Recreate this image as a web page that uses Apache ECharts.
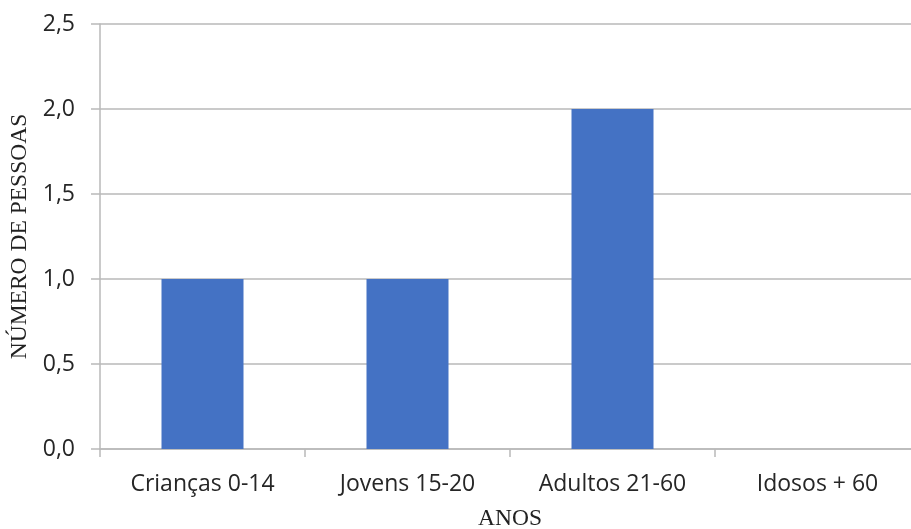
<!DOCTYPE html>
<html>
<head>
<meta charset="utf-8">
<script src="https://cdn.jsdelivr.net/npm/echarts@6/dist/echarts.min.js"></script>
<style>
  html, body { margin: 0; padding: 0; background: #fff; }
  #chart { width: 911px; height: 529px; }
</style>
</head>
<body>
<div id="chart"></div>
<script>
// Age groups and number of people in each
const categories = ['Crianças 0-14', 'Jovens 15-20', 'Adultos 21-60', 'Idosos + 60'];
const pessoas = [1, 1, 2, 0];
const yTicks = [0, 0.5, 1, 1.5, 2, 2.5];

const gridColor = '#b9b9b9';
const chart = echarts.init(document.getElementById('chart'), null, { renderer: 'canvas' });

chart.setOption({
  animation: false,
  grid: {
    left: 100, top: 24, width: 820, height: 425,
    containLabel: false,
    outerBoundsMode: 'none'
  },
  xAxis: {
    type: 'category',
    data: categories,
    name: 'ANOS',
    nameLocation: 'middle',
    nameGap: 58,
    nameTextStyle: { fontFamily: 'Liberation Serif', fontSize: 23.5, color: '#222' },
    axisLine: { show: true, lineStyle: { color: gridColor, width: 1.5 } },
    axisTick: { show: true, length: 8, lineStyle: { color: gridColor, width: 1.5 } },
    axisLabel: { margin: 24, fontFamily: 'Open Sans', fontSize: 23, color: '#262626' }
  },
  yAxis: {
    type: 'value',
    min: yTicks[0],
    max: yTicks[yTicks.length - 1],
    interval: 0.5,
    name: 'NÚMERO DE PESSOAS',
    nameLocation: 'middle',
    nameRotate: 90,
    nameGap: 60,
    nameTextStyle: { fontFamily: 'Liberation Serif', fontSize: 23.5, color: '#222' },
    axisLine: { show: true, lineStyle: { color: gridColor, width: 1.5 } },
    axisTick: { show: true, length: 9, lineStyle: { color: gridColor, width: 1.5 } },
    axisLabel: {
      margin: 25,
      fontFamily: 'Open Sans',
      fontSize: 23,
      color: '#262626',
      formatter: v => v.toFixed(1).replace('.', ',')
    },
    splitLine: { show: true, lineStyle: { color: gridColor, width: 1.5 } }
  },
  series: [{
    type: 'bar',
    data: pessoas,
    barWidth: '40%',
    itemStyle: { color: '#4472C4' }
  }]
});
</script>
</body>
</html>
